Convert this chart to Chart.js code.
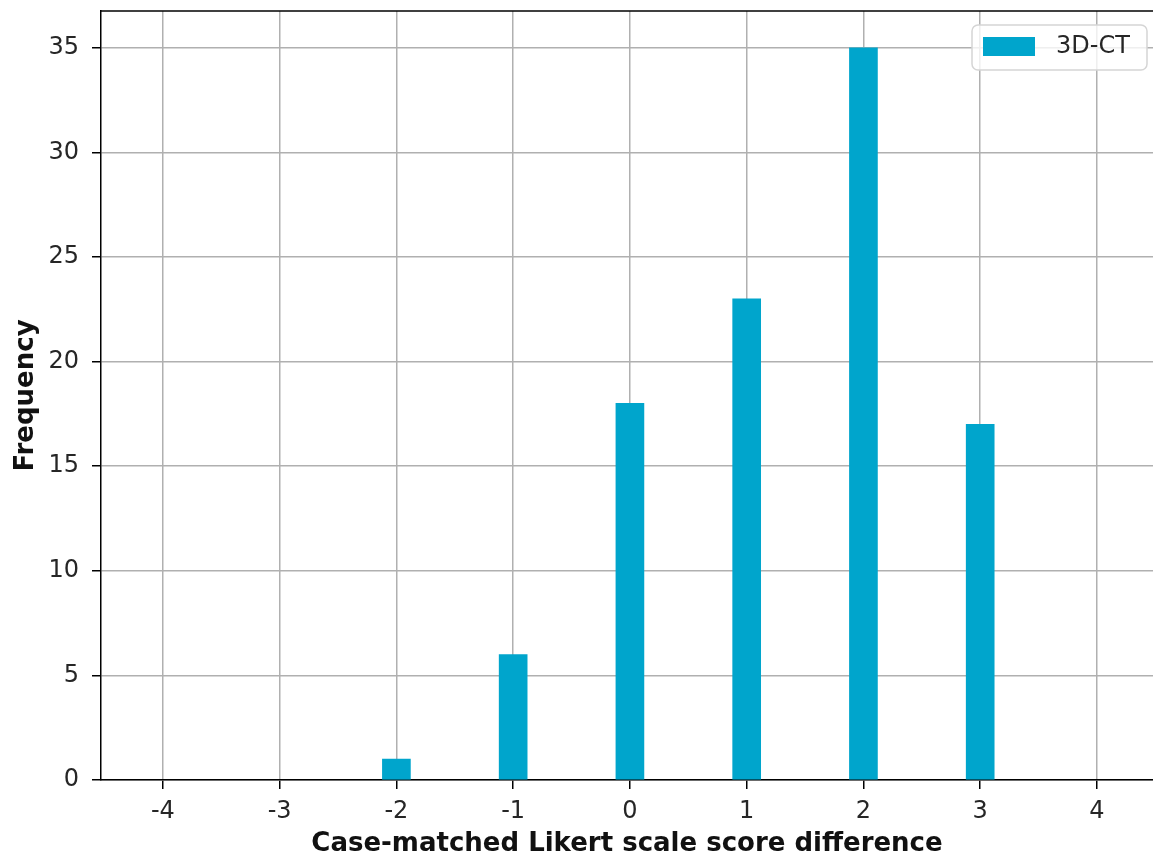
<!DOCTYPE html>
<html>
<head>
<meta charset="utf-8">
<script src="https://cdn.jsdelivr.net/npm/chart.js@4"></script>
<style>
  html, body { margin: 0; padding: 0; background: #fff; }
  #wrap { width: 1153px; height: 860px; position: relative; }
</style>
</head>
<body>
<div id="wrap"><canvas id="hist"></canvas></div>
<script>
// --- DATA ---
const scoreDiffs = [-2, -1, 0, 1, 2, 3];
const frequency = [1, 6, 18, 23, 35, 17];
const xTickValues = [-4, -3, -2, -1, 0, 1, 2, 3, 4];
const yTickValues = [0, 5, 10, 15, 20, 25, 30, 35];
const seriesLabel = '3D-CT';

const BAR_COLOR = '#00a5cc';
const GRID_COLOR = '#b0b0b0';
const TEXT_COLOR = '#262626';

// top spine (matplotlib box, right side is cropped)
const topSpine = {
    id: 'topSpine',
    afterDraw(chart) {
        const { ctx, chartArea } = chart;
        ctx.save();
        ctx.strokeStyle = '#000';
        ctx.lineWidth = 1.5;
        ctx.beginPath();
        ctx.moveTo(chartArea.left, chartArea.top);
        ctx.lineTo(chartArea.right, chartArea.top);
        ctx.stroke();
        ctx.restore();
    }
};

// matplotlib-like legend box in the upper right corner
const boxLegend = {
    id: 'boxLegend',
    afterDraw(chart) {
        const { ctx, chartArea } = chart;
        const ds = chart.data.datasets[0];
        const x1 = chartArea.right - 181, y1 = chartArea.top + 14;
        const w = 175, h = 45;
        ctx.save();
        ctx.beginPath();
        ctx.roundRect(x1, y1, w, h, 6);
        ctx.fillStyle = 'rgba(255,255,255,0.8)';
        ctx.fill();
        ctx.strokeStyle = '#d5d5d5';
        ctx.lineWidth = 1.5;
        ctx.stroke();
        ctx.fillStyle = ds.backgroundColor;
        ctx.fillRect(x1 + 11, y1 + 12, 52, 19);
        ctx.fillStyle = TEXT_COLOR;
        ctx.font = '24px "DejaVu Sans"';
        ctx.textBaseline = 'middle';
        ctx.fillText(ds.label, x1 + 84, y1 + 22);
        ctx.restore();
    }
};

const ctx = document.getElementById('hist').getContext('2d');
new Chart(ctx, {
    type: 'bar',
    data: {
        datasets: [{
            label: seriesLabel,
            data: scoreDiffs.map((d, i) => ({ x: d, y: frequency[i] })),
            backgroundColor: BAR_COLOR,
            borderWidth: 0,
            barThickness: 28
        }]
    },
    options: {
        responsive: true,
        maintainAspectRatio: false,
        animation: false,
        layout: { padding: { top: 11, right: 0, bottom: 0, left: 0 } },
        plugins: {
            legend: { display: false },
            tooltip: { enabled: false }
        },
        scales: {
            x: {
                type: 'linear',
                min: -4.53,
                max: 4.48,
                offset: false,
                z: 1,
                afterBuildTicks: s => { s.ticks = xTickValues.map(v => ({ value: v })); },
                afterFit: s => { s.height = 80; s.paddingLeft = 0; s.paddingRight = 0; },
                ticks: {
                    color: TEXT_COLOR,
                    font: { family: 'DejaVu Sans', size: 24 },
                    padding: 8,
                    maxRotation: 0,
                    autoSkip: false
                },
                grid: { offset: false, color: GRID_COLOR, lineWidth: 1.5, tickLength: 9, tickColor: '#000', tickWidth: 1.5 },
                border: { color: '#000', width: 1.5 },
                title: {
                    display: true,
                    text: 'Case-matched Likert scale score difference',
                    color: '#111',
                    font: { family: 'DejaVu Sans', size: 26, weight: 'bold' },
                    padding: { top: 0, bottom: 0 }
                }
            },
            y: {
                min: 0,
                max: 36.76,
                z: 1,
                afterBuildTicks: s => { s.ticks = yTickValues.map(v => ({ value: v })); },
                afterFit: s => { s.width = 101; s.paddingTop = 0; s.paddingBottom = 0; },
                ticks: {
                    color: TEXT_COLOR,
                    font: { family: 'DejaVu Sans', size: 24 },
                    padding: 13
                },
                grid: { color: GRID_COLOR, lineWidth: 1.5, tickLength: 9, tickColor: '#000', tickWidth: 1.5 },
                border: { color: '#000', width: 1.5 },
                title: {
                    display: true,
                    text: 'Frequency',
                    color: '#111',
                    font: { family: 'DejaVu Sans', size: 26, weight: 'bold' },
                    padding: { top: 11, bottom: 0 }
                }
            }
        }
    },
    plugins: [topSpine, boxLegend]
});
</script>
</body>
</html>
